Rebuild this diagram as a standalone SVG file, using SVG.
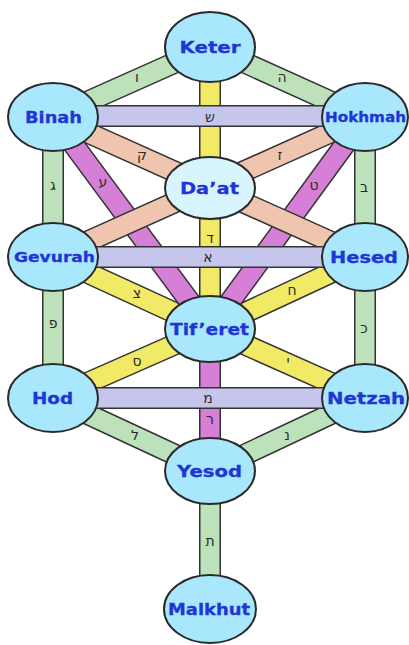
<svg xmlns="http://www.w3.org/2000/svg" width="409" height="645" viewBox="0 0 409 645">
<style>
.o{stroke:#333;stroke-width:22;stroke-linecap:butt}
.f{stroke-width:19;stroke-linecap:butt}
.g{stroke:#bde2bb}
.y{stroke:#f0ea66}
.m{stroke:#d67fd6}
.s{stroke:#efc5b0}
.l{stroke:#c6c6ec}
.n{fill:#a8e7fc;stroke:#2a2a2a;stroke-width:2}
.d{fill:#d8f5fd;stroke:#2a2a2a;stroke-width:2}
.t{font-family:"DejaVu Sans",Verdana,sans-serif;font-weight:bold;fill:#1f36d4;stroke:#1f36d4;stroke-width:0.3;text-anchor:middle}
.h{font-family:"DejaVu Sans","Liberation Sans",sans-serif;font-size:14px;fill:#2a2a2a;text-anchor:middle}
</style>
<rect width="409" height="645" fill="#fff"/>
<g id="connectors">
<g><line class="o" x1="210" y1="47" x2="53" y2="117"/><line class="f g" x1="210" y1="47" x2="53" y2="117"/></g>
<g><line class="o" x1="210" y1="47" x2="365" y2="117"/><line class="f g" x1="210" y1="47" x2="365" y2="117"/></g>
<g><line class="o" x1="53" y1="117" x2="53" y2="257"/><line class="f g" x1="53" y1="117" x2="53" y2="257"/></g>
<g><line class="o" x1="365" y1="117" x2="365" y2="257"/><line class="f g" x1="365" y1="117" x2="365" y2="257"/></g>
<g><line class="o" x1="53" y1="257" x2="53" y2="398"/><line class="f g" x1="53" y1="257" x2="53" y2="398"/></g>
<g><line class="o" x1="365" y1="257" x2="365" y2="398"/><line class="f g" x1="365" y1="257" x2="365" y2="398"/></g>
<g><line class="o" x1="53" y1="398" x2="210" y2="471"/><line class="f g" x1="53" y1="398" x2="210" y2="471"/></g>
<g><line class="o" x1="365" y1="398" x2="210" y2="471"/><line class="f g" x1="365" y1="398" x2="210" y2="471"/></g>
<g><line class="o" x1="210" y1="471" x2="210" y2="609"/><line class="f g" x1="210" y1="471" x2="210" y2="609"/></g>
<g><line class="o" x1="210" y1="47" x2="210" y2="329"/><line class="f y" x1="210" y1="47" x2="210" y2="329"/></g>
<g><line class="o" x1="53" y1="257" x2="210" y2="329"/><line class="f y" x1="53" y1="257" x2="210" y2="329"/></g>
<g><line class="o" x1="365" y1="257" x2="210" y2="329"/><line class="f y" x1="365" y1="257" x2="210" y2="329"/></g>
<g><line class="o" x1="210" y1="329" x2="53" y2="398"/><line class="f y" x1="210" y1="329" x2="53" y2="398"/></g>
<g><line class="o" x1="210" y1="329" x2="365" y2="398"/><line class="f y" x1="210" y1="329" x2="365" y2="398"/></g>
<g><line class="o" x1="53" y1="117" x2="210" y2="329"/><line class="f m" x1="53" y1="117" x2="210" y2="329"/></g>
<g><line class="o" x1="365" y1="117" x2="210" y2="329"/><line class="f m" x1="365" y1="117" x2="210" y2="329"/></g>
<g><line class="o" x1="210" y1="329" x2="210" y2="471"/><line class="f m" x1="210" y1="329" x2="210" y2="471"/></g>
<g><line class="o" x1="53" y1="117" x2="365" y2="257"/><line class="f s" x1="53" y1="117" x2="365" y2="257"/></g>
<g><line class="o" x1="365" y1="117" x2="53" y2="257"/><line class="f s" x1="365" y1="117" x2="53" y2="257"/></g>
<g><line class="o" x1="53" y1="116" x2="365" y2="116"/><line class="f l" x1="53" y1="116" x2="365" y2="116"/></g>
<g><line class="o" x1="53" y1="257" x2="365" y2="257"/><line class="f l" x1="53" y1="257" x2="365" y2="257"/></g>
<g><line class="o" x1="53" y1="398" x2="365" y2="398"/><line class="f l" x1="53" y1="398" x2="365" y2="398"/></g>
<text class="h" x="137" y="82">ו</text>
<text class="h" x="282" y="82">ה</text>
<text class="h" x="210" y="122">ש</text>
<text class="h" x="142" y="160">ק</text>
<text class="h" x="280" y="160">ז</text>
<text class="h" x="53" y="190">ג</text>
<text class="h" x="364" y="192">ב</text>
<text class="h" x="103" y="187">ע</text>
<text class="h" x="314" y="190">ט</text>
<text class="h" x="210" y="243">ד</text>
<text class="h" x="208" y="262">א</text>
<text class="h" x="137" y="298">צ</text>
<text class="h" x="292" y="295">ח</text>
<text class="h" x="53" y="328">פ</text>
<text class="h" x="364" y="333">כ</text>
<text class="h" x="137" y="366">ס</text>
<text class="h" x="288" y="366">י</text>
<text class="h" x="208" y="403">מ</text>
<text class="h" x="210" y="424">ר</text>
<text class="h" x="135" y="440">ל</text>
<text class="h" x="287" y="440">נ</text>
<text class="h" x="210" y="546">ת</text>
</g>
<g id="keter"><ellipse class="n" cx="210" cy="47" rx="45" ry="35"/><text class="t" x="210" y="53" font-size="16.5" textLength="61" lengthAdjust="spacingAndGlyphs">Keter</text></g>
<g id="binah"><ellipse class="n" cx="53" cy="117" rx="45" ry="34"/><text class="t" x="53.5" y="123" font-size="16.5" textLength="57" lengthAdjust="spacingAndGlyphs">Binah</text></g>
<g id="hokhmah"><ellipse class="n" cx="365" cy="117" rx="43" ry="34"/><text class="t" x="365.5" y="122" font-size="13.5" textLength="81" lengthAdjust="spacingAndGlyphs">Hokhmah</text></g>
<g id="daat"><ellipse class="d" cx="210" cy="188" rx="45" ry="31"/><text class="t" x="209.5" y="194" font-size="16.5" textLength="59" lengthAdjust="spacingAndGlyphs">Da’at</text></g>
<g id="gevurah"><ellipse class="n" cx="53" cy="257" rx="45" ry="34"/><text class="t" x="54.5" y="262" font-size="13.5" textLength="81" lengthAdjust="spacingAndGlyphs">Gevurah</text></g>
<g id="hesed"><ellipse class="n" cx="365" cy="257" rx="43" ry="34"/><text class="t" x="364" y="263" font-size="16.5" textLength="68" lengthAdjust="spacingAndGlyphs">Hesed</text></g>
<g id="tiferet"><ellipse class="n" cx="210" cy="329" rx="45" ry="33"/><text class="t" x="209.5" y="335" font-size="16.5" textLength="79" lengthAdjust="spacingAndGlyphs">Tif’eret</text></g>
<g id="hod"><ellipse class="n" cx="53" cy="398" rx="45" ry="34"/><text class="t" x="52.5" y="404" font-size="16.5" textLength="41" lengthAdjust="spacingAndGlyphs">Hod</text></g>
<g id="netzah"><ellipse class="n" cx="365" cy="398" rx="43" ry="34"/><text class="t" x="366" y="404" font-size="16.5" textLength="78" lengthAdjust="spacingAndGlyphs">Netzah</text></g>
<g id="yesod"><ellipse class="n" cx="210" cy="471" rx="45" ry="33"/><text class="t" x="209.5" y="477" font-size="16.5" textLength="65" lengthAdjust="spacingAndGlyphs">Yesod</text></g>
<g id="malkhut"><ellipse class="n" cx="210" cy="609" rx="46" ry="34"/><text class="t" x="209" y="615" font-size="15" textLength="82" lengthAdjust="spacingAndGlyphs">Malkhut</text></g>
</svg>
